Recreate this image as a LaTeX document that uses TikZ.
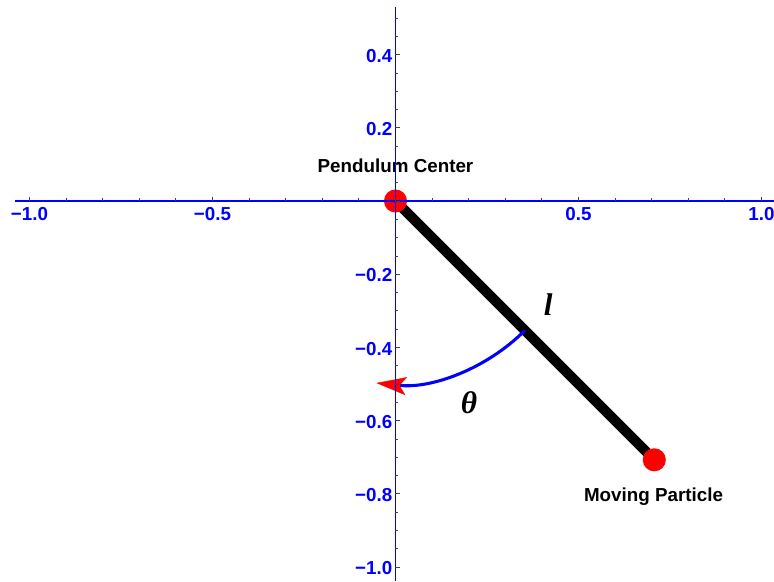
\documentclass[tikz,border=0pt]{standalone}
\usepackage{fontspec}
\setmainfont{Liberation Sans}
\newfontfamily\mathlab{Liberation Serif}
\usetikzlibrary{arrows.meta}
\begin{document}
\begin{tikzpicture}[x=274.5pt,y=274.5pt,
  axisline/.style={draw=blue, line width=1.1pt},
  tickmark/.style={draw=black!75, line width=0.6pt},
  ticklabel/.style={text=blue, font=\fontsize{14.1}{16}\selectfont\bfseries, inner sep=0pt},
  dot/.style={circle, fill=red, minimum size=17.3pt, inner sep=0pt},
  rod/.style={draw=black, line width=7.5pt},
  lab/.style={font=\fontsize{14.1}{16}\selectfont\bfseries, inner sep=0pt},
  sym/.style={font=\fontsize{23.5}{26}\selectfont\mathlab\bfseries\itshape, inner sep=0pt},
  swing/.style={draw=blue, line width=2.3pt, -{Stealth[red, length=22.5pt, width=13.5pt, inset=5pt, line width=0.3pt]}}
]
\useasboundingbox (-1.0806,-1.0383) rectangle (1.0342,0.5492);
% pendulum
\coordinate (c0) at (0,0);
\coordinate (p0) at (0.7071,-0.7071);
\coordinate (arcstart) at (-45:0.5);
\draw[rod] (c0) -- (p0);
\draw[swing] (arcstart) arc[start angle=-45, end angle=-96, radius=0.5];
\node[dot] (C) at (c0) {};
\node[dot] (P) at (p0) {};
% labels
\node[lab, anchor=base] (lc) at (0,0.079) {Pendulum Center};
\node[lab, anchor=base] (lp) at (0.705,-0.822) {Moving Particle};
\node[sym] (ll) at (0.417,-0.284) {l};
\node[sym] (lt) at (0.201,-0.551) {θ};
% axes
\coordinate (xl) at (-1.0396,0);
\coordinate (xr) at (1.0342,0);
\coordinate (yt) at (0,0.530);
\coordinate (yb) at (0,-1.0383);
\draw[axisline] (xl) -- (xr);
\draw[axisline] (yt) -- (yb);
\foreach \i in {-10,...,10}{
  \pgfmathtruncatemacro\m{mod(abs(\i),5)}
  \ifnum\m=0
    \draw[tickmark] (\i/10,0) -- (\i/10,0.011);
  \else
    \draw[tickmark] (\i/10,0) -- (\i/10,0.007);
  \fi
}
\foreach \j in {-20,...,10}{
  \pgfmathtruncatemacro\m{mod(abs(\j),4)}
  \ifnum\m=0
    \draw[tickmark] (0,\j/20) -- (0.011,\j/20);
  \else
    \draw[tickmark] (0,\j/20) -- (0.007,\j/20);
  \fi
}
% tick labels
\foreach \v/\t in {-1/−1.0,-0.5/−0.5,0.5/0.5,1/1.0}{
  \node[ticklabel, anchor=base] at (\v,-0.0546) {\t};
}
\foreach \v/\t in {0.4/0.4,0.2/0.2,-0.2/−0.2,-0.4/−0.4,-0.6/−0.6,-0.8/−0.8,-1/−1.0}{
  \node[ticklabel, anchor=base east] at (-0.008,\v-0.021) {\t};
}
\end{tikzpicture}
\end{document}
